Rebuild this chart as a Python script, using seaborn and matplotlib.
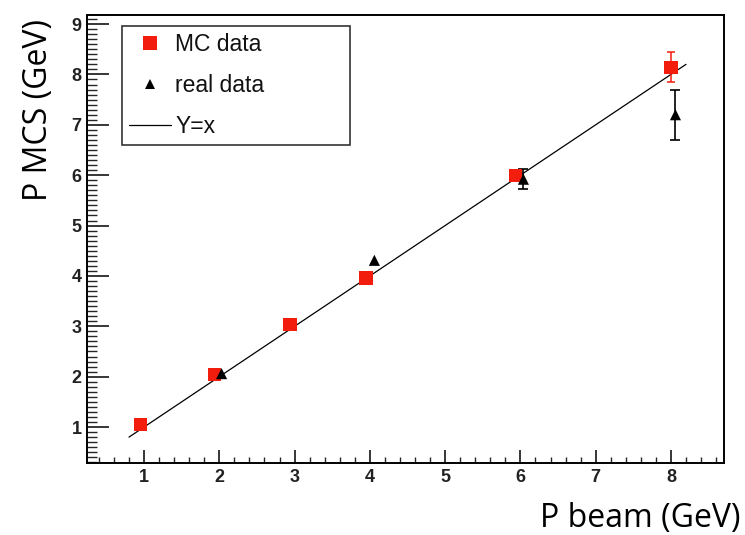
import matplotlib
matplotlib.use("Agg")
import matplotlib.pyplot as plt
from matplotlib.lines import Line2D
from matplotlib.ticker import MultipleLocator
import seaborn as sns
import pandas as pd

# ---- data ----
mc_x = [0.95, 1.94, 2.94, 3.95, 5.94, 8.0]
mc_y = [1.05, 2.04, 3.03, 3.96, 5.99, 8.14]
mc_err = [0.03, 0.03, 0.03, 0.05, 0.08, 0.30]

real_x = [2.03, 4.06, 6.04, 8.06]
real_y = [2.06, 4.31, 5.92, 7.20]
real_err = [0.0, 0.0, 0.20, 0.50]

line_x = [0.8, 8.2]
line_y = [0.8, 8.2]

x_ticks = [1, 2, 3, 4, 5, 6, 7, 8]
y_ticks = [1, 2, 3, 4, 5, 6, 7, 8, 9]

legend_labels = ["MC data", "real data", "Y=x"]
x_label = "P beam (GeV)"
y_label = "P MCS (GeV)"

sns.set_theme(style="white")
plt.rcParams["font.family"] = ["Liberation Sans", "DejaVu Sans"]

RED = "#f21d0d"

fig = plt.figure(figsize=(7.45, 5.35), dpi=100)
ax = fig.add_axes([87 / 745, (535 - 463) / 535, (724 - 87) / 745, (463 - 15) / 535])

mc_df = pd.DataFrame({"x": mc_x, "y": mc_y, "err": mc_err})
real_df = pd.DataFrame({"x": real_x, "y": real_y, "err": real_err})
line_df = pd.DataFrame({"x": line_x, "y": line_y})

# Y = x line
sns.lineplot(data=line_df, x="x", y="y", ax=ax, color="black", linewidth=0.9,
             zorder=2, legend=False)

# error bars (only where an error is visible)
mc_e = mc_df[mc_df["err"] > 0]
real_e = real_df[real_df["err"] > 0]
ax.errorbar(mc_e["x"], mc_e["y"], yerr=mc_e["err"], fmt="none", ecolor=RED,
            elinewidth=1.1, capsize=3, capthick=1.1, zorder=3)
ax.errorbar(real_e["x"], real_e["y"], yerr=real_e["err"], fmt="none",
            ecolor="black", elinewidth=1.2, capsize=3.5, capthick=1.2, zorder=3.5)

# markers
sns.scatterplot(data=mc_df, x="x", y="y", ax=ax, marker="s", s=9.5 ** 2,
                color=RED, edgecolor="none", linewidth=0, zorder=4, legend=False)
sns.scatterplot(data=real_df, x="x", y="y", ax=ax, marker="^", s=8 ** 2,
                color="black", edgecolor="none", linewidth=0, zorder=6, legend=False)

ax.set_xlim(0.242, 8.705)
ax.set_ylim(0.286, 9.18)
ax.set_xticks(x_ticks)
ax.set_yticks(y_ticks)
ax.xaxis.set_minor_locator(MultipleLocator(0.2))
ax.yaxis.set_minor_locator(MultipleLocator(0.1))
ax.set_xlabel("")
ax.set_ylabel("")

for sp in ax.spines.values():
    sp.set_visible(True)
    sp.set_color("black")
    sp.set_linewidth(1.4)

ax.tick_params(axis="x", which="major", direction="in", length=9.4, width=1.1,
               pad=4, labelsize=13, colors="black", top=False, bottom=True)
ax.tick_params(axis="x", which="minor", direction="in", length=4.6, width=1.0,
               top=False, bottom=True)
ax.tick_params(axis="y", which="major", direction="in", length=15.5, width=1.1,
               pad=4, labelsize=13, colors="black", left=True, right=False)
ax.tick_params(axis="y", which="minor", direction="in", length=7.2, width=1.0,
               left=True, right=False)
for lab in ax.get_xticklabels() + ax.get_yticklabels():
    lab.set_fontweight("bold")
    lab.set_color("#222222")

# legend
handles = [
    Line2D([], [], linestyle="none", marker="s", markersize=9.5, color=RED,
           markeredgewidth=0),
    Line2D([], [], linestyle="none", marker="^", markersize=6.5, color="black",
           markeredgewidth=0),
    Line2D([], [], color="black", linewidth=0.9),
]
leg = ax.legend(handles, legend_labels, loc="upper left",
                bbox_to_anchor=((122 - 87) / 637, (463 - 26) / 448,
                                (350 - 122) / 637, 0.0),
                mode="expand", borderaxespad=0, frameon=True, fancybox=False,
                edgecolor="#333333", framealpha=1, fontsize=16.5,
                handlelength=1.8, handletextpad=0.2, labelspacing=0.77,
                borderpad=0.32)
leg.get_frame().set_linewidth(1.2)
for t in leg.get_texts():
    t.set_color("#111111")

# axis titles (Calibri-like)
fig.text(740 / 745, 1 - 518 / 535, x_label, ha="right", va="center",
         fontsize=23, family=["Open Sans", "DejaVu Sans"], color="black")
fig.text(39 / 745, 1 - 110 / 535, y_label, ha="center", va="center",
         rotation=90, fontsize=23, family=["Open Sans", "DejaVu Sans"],
         color="black")

fig.savefig("out.png", dpi=100)
